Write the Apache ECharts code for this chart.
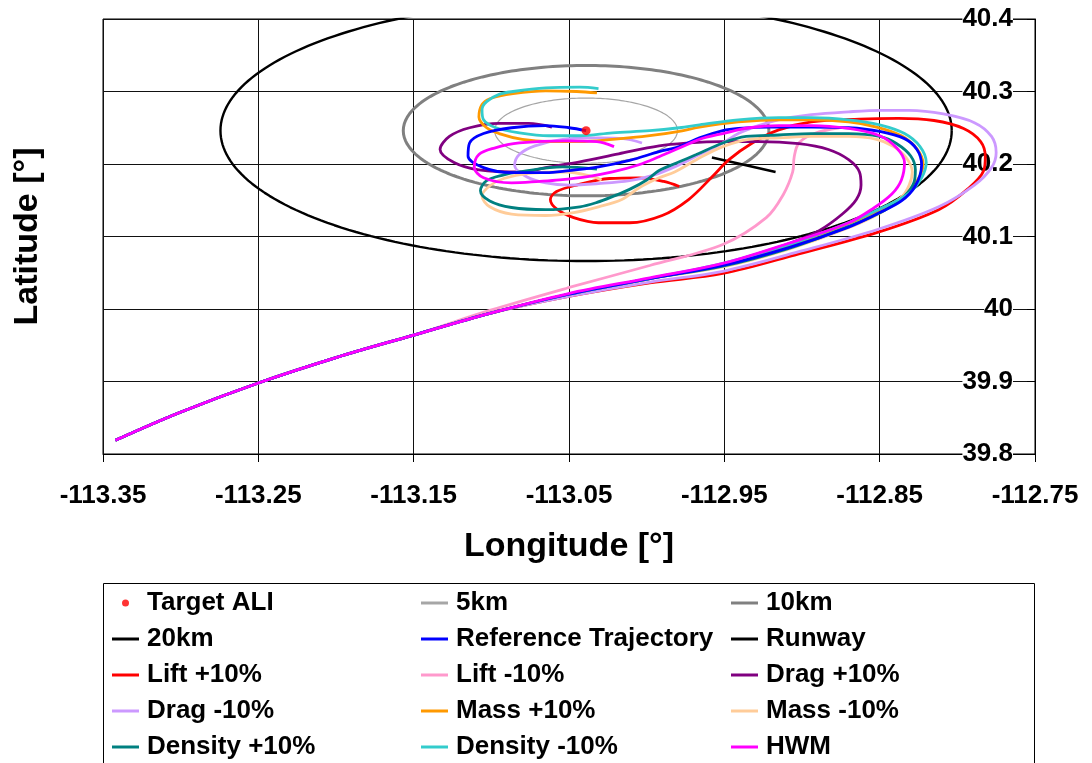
<!DOCTYPE html>
<html>
<head>
<meta charset="utf-8">
<script src="https://cdn.jsdelivr.net/npm/echarts@6/dist/echarts.min.js"></script>
<style>
  html, body { margin: 0; padding: 0; background: #ffffff; }
  #chart { width: 1092px; height: 763px; }
</style>
</head>
<body>
<div id="chart"></div>
<script>
// Axis ranges (degrees)
const lonRange = [-113.35, -112.75];
const latRange = [39.8, 40.4];
const tickStep = 0.1;

// Target point and range rings around it (km)
const targetALI = [-113.039, 40.246];
const ringRadiiKm = [5, 10, 20];

// Runway centreline
const runway = [[-112.958, 40.209], [-112.917, 40.189]];

// Trajectories [lon, lat]
const reference = [
  [-113.342, 39.819], [-113.301, 39.857], [-113.250, 39.898], [-113.200, 39.933], [-113.150, 39.964],
  [-113.101, 39.994], [-113.051, 40.020], [-112.998, 40.042], [-112.951, 40.060], [-112.908, 40.085],
  [-112.870, 40.113], [-112.851, 40.132], [-112.836, 40.149], [-112.827, 40.170], [-112.823, 40.199],
  [-112.826, 40.220], [-112.834, 40.235], [-112.850, 40.245], [-112.870, 40.250], [-112.894, 40.251],
  [-112.921, 40.251], [-112.941, 40.249], [-112.951, 40.246], [-112.966, 40.236], [-112.979, 40.224],
  [-112.992, 40.217], [-113.011, 40.205], [-113.031, 40.196], [-113.050, 40.191], [-113.065, 40.188],
  [-113.087, 40.188], [-113.105, 40.195], [-113.115, 40.211], [-113.114, 40.229], [-113.105, 40.242],
  [-113.087, 40.250], [-113.065, 40.253], [-113.050, 40.250], [-113.039, 40.246]
];
const liftPlus = [
  [-113.342, 39.819], [-113.301, 39.857], [-113.250, 39.898], [-113.200, 39.933], [-113.150, 39.964],
  [-113.101, 39.994], [-113.051, 40.017], [-112.998, 40.036], [-112.951, 40.049], [-112.902, 40.076],
  [-112.851, 40.106], [-112.812, 40.137], [-112.793, 40.166], [-112.783, 40.191], [-112.782, 40.210],
  [-112.785, 40.231], [-112.796, 40.249], [-112.815, 40.260], [-112.838, 40.263], [-112.863, 40.262],
  [-112.894, 40.258], [-112.915, 40.247], [-112.932, 40.229], [-112.947, 40.206], [-112.958, 40.182],
  [-112.973, 40.151], [-112.990, 40.129], [-113.011, 40.119], [-113.031, 40.119], [-113.047, 40.126],
  [-113.058, 40.138], [-113.062, 40.151], [-113.058, 40.162], [-113.045, 40.171], [-113.024, 40.180],
  [-113.005, 40.181], [-112.989, 40.176], [-112.979, 40.169]
];
const liftMinus = [
  [-113.342, 39.819], [-113.301, 39.857], [-113.250, 39.898], [-113.200, 39.933], [-113.150, 39.964],
  [-113.101, 39.998], [-113.051, 40.029], [-112.998, 40.060], [-112.951, 40.089], [-112.923, 40.126],
  [-112.912, 40.158], [-112.906, 40.189], [-112.905, 40.210], [-112.902, 40.229], [-112.892, 40.242],
  [-112.876, 40.250]
];
const dragPlus = [
  [-113.342, 39.819], [-113.301, 39.857], [-113.250, 39.898], [-113.200, 39.933], [-113.150, 39.964],
  [-113.101, 39.994], [-113.051, 40.020], [-112.998, 40.042], [-112.951, 40.062], [-112.923, 40.080],
  [-112.906, 40.092], [-112.889, 40.108], [-112.874, 40.131], [-112.865, 40.151], [-112.862, 40.171],
  [-112.863, 40.189], [-112.870, 40.206], [-112.883, 40.220], [-112.902, 40.228], [-112.928, 40.231],
  [-112.953, 40.231], [-112.973, 40.229], [-112.992, 40.225], [-113.018, 40.214], [-113.043, 40.203],
  [-113.065, 40.195], [-113.080, 40.189], [-113.108, 40.192], [-113.124, 40.202], [-113.133, 40.220],
  [-113.127, 40.238], [-113.114, 40.250], [-113.095, 40.256], [-113.076, 40.256], [-113.061, 40.251]
];
const dragMinus = [
  [-113.342, 39.819], [-113.301, 39.857], [-113.250, 39.898], [-113.200, 39.933], [-113.150, 39.964],
  [-113.101, 39.994], [-113.051, 40.017], [-112.998, 40.037], [-112.951, 40.052], [-112.902, 40.079],
  [-112.851, 40.110], [-112.812, 40.141], [-112.789, 40.171], [-112.778, 40.195], [-112.775, 40.216],
  [-112.778, 40.238], [-112.789, 40.257], [-112.809, 40.269], [-112.831, 40.274], [-112.849, 40.274],
  [-112.870, 40.272], [-112.894, 40.268], [-112.915, 40.261], [-112.928, 40.253], [-112.941, 40.242],
  [-112.951, 40.229], [-112.966, 40.213], [-112.979, 40.199], [-112.995, 40.185], [-113.011, 40.177],
  [-113.031, 40.173], [-113.050, 40.171], [-113.065, 40.174], [-113.077, 40.182], [-113.085, 40.198],
  [-113.082, 40.213], [-113.072, 40.225], [-113.054, 40.234], [-113.031, 40.236], [-113.015, 40.235],
  [-113.003, 40.229]
];
const massPlus = [
  [-113.342, 39.819], [-113.301, 39.857], [-113.250, 39.898], [-113.200, 39.933], [-113.150, 39.964],
  [-113.101, 39.994], [-113.051, 40.020], [-112.998, 40.042], [-112.951, 40.062], [-112.908, 40.088],
  [-112.870, 40.118], [-112.847, 40.140], [-112.833, 40.159], [-112.825, 40.180], [-112.822, 40.200],
  [-112.826, 40.221], [-112.836, 40.239], [-112.852, 40.251], [-112.870, 40.258], [-112.894, 40.261],
  [-112.915, 40.261], [-112.941, 40.258], [-112.966, 40.251], [-112.979, 40.245], [-112.998, 40.239],
  [-113.022, 40.234], [-113.043, 40.231], [-113.063, 40.231], [-113.080, 40.234], [-113.095, 40.242],
  [-113.103, 40.250], [-113.108, 40.265], [-113.106, 40.282], [-113.101, 40.290], [-113.086, 40.297],
  [-113.065, 40.301], [-113.045, 40.300], [-113.032, 40.298]
];
const massMinus = [
  [-113.342, 39.819], [-113.301, 39.857], [-113.250, 39.898], [-113.200, 39.933], [-113.150, 39.964],
  [-113.101, 39.994], [-113.051, 40.020], [-112.998, 40.042], [-112.951, 40.058], [-112.908, 40.083],
  [-112.870, 40.112], [-112.849, 40.133], [-112.836, 40.154], [-112.831, 40.171], [-112.829, 40.189],
  [-112.833, 40.209], [-112.841, 40.224], [-112.852, 40.234], [-112.870, 40.238], [-112.894, 40.238],
  [-112.915, 40.236], [-112.934, 40.234], [-112.951, 40.224], [-112.968, 40.206], [-112.982, 40.189],
  [-112.992, 40.181], [-113.005, 40.167], [-113.016, 40.151], [-113.031, 40.141], [-113.047, 40.133],
  [-113.065, 40.129], [-113.087, 40.131], [-113.101, 40.141], [-113.106, 40.156], [-113.101, 40.170],
  [-113.092, 40.180], [-113.076, 40.187], [-113.052, 40.189], [-113.037, 40.184], [-113.029, 40.178]
];
const densityPlus = [
  [-113.342, 39.819], [-113.301, 39.857], [-113.250, 39.898], [-113.200, 39.933], [-113.150, 39.964],
  [-113.101, 39.994], [-113.051, 40.020], [-112.998, 40.042], [-112.951, 40.059], [-112.908, 40.084],
  [-112.870, 40.114], [-112.847, 40.136], [-112.834, 40.156], [-112.828, 40.174], [-112.827, 40.192],
  [-112.830, 40.211], [-112.839, 40.228], [-112.850, 40.238], [-112.870, 40.242], [-112.894, 40.242],
  [-112.915, 40.240], [-112.936, 40.238], [-112.951, 40.229], [-112.968, 40.213], [-112.979, 40.203],
  [-112.992, 40.191], [-113.000, 40.178], [-113.011, 40.165], [-113.022, 40.155], [-113.032, 40.147],
  [-113.043, 40.141], [-113.065, 40.137], [-113.087, 40.140], [-113.101, 40.149], [-113.107, 40.163],
  [-113.103, 40.177], [-113.092, 40.185], [-113.082, 40.189], [-113.054, 40.196], [-113.032, 40.193]
];
const densityMinus = [
  [-113.342, 39.819], [-113.301, 39.857], [-113.250, 39.898], [-113.200, 39.933], [-113.150, 39.964],
  [-113.101, 39.994], [-113.051, 40.020], [-112.998, 40.042], [-112.951, 40.063], [-112.908, 40.089],
  [-112.870, 40.119], [-112.847, 40.141], [-112.831, 40.160], [-112.823, 40.181], [-112.820, 40.202],
  [-112.824, 40.224], [-112.834, 40.242], [-112.850, 40.254], [-112.870, 40.261], [-112.894, 40.264],
  [-112.915, 40.264], [-112.941, 40.261], [-112.966, 40.254], [-112.979, 40.250], [-112.998, 40.246],
  [-113.022, 40.243], [-113.043, 40.239], [-113.063, 40.239], [-113.082, 40.243], [-113.097, 40.250],
  [-113.105, 40.261], [-113.106, 40.275], [-113.103, 40.286], [-113.095, 40.296], [-113.086, 40.300],
  [-113.065, 40.305], [-113.043, 40.306], [-113.031, 40.304]
];
const hwm = [
  [-113.342, 39.819], [-113.301, 39.857], [-113.250, 39.898], [-113.200, 39.933], [-113.150, 39.964],
  [-113.101, 39.994], [-113.051, 40.021], [-112.998, 40.043], [-112.951, 40.063], [-112.908, 40.091],
  [-112.870, 40.119], [-112.854, 40.139], [-112.842, 40.159], [-112.836, 40.178], [-112.834, 40.202],
  [-112.839, 40.222], [-112.850, 40.239], [-112.870, 40.249], [-112.894, 40.253], [-112.915, 40.253],
  [-112.934, 40.250], [-112.951, 40.242], [-112.966, 40.234], [-112.979, 40.222], [-112.992, 40.210],
  [-113.005, 40.199], [-113.022, 40.189], [-113.037, 40.183], [-113.056, 40.178], [-113.069, 40.176],
  [-113.087, 40.174], [-113.105, 40.181], [-113.111, 40.196], [-113.108, 40.213], [-113.098, 40.222],
  [-113.082, 40.229], [-113.052, 40.232], [-113.032, 40.231], [-113.021, 40.224]
];

const FONT = 'Liberation Sans, Arial, Helvetica, sans-serif';

// Range ring drawn as a circle of the given radius around the target
function ringPoints(km) {
  const dLat = km / 111.2;
  const dLon = km / (111.32 * Math.cos(targetALI[1] * Math.PI / 180));
  const pts = [];
  for (let i = 0; i <= 240; i++) {
    const a = (i / 240) * 2 * Math.PI;
    pts.push([targetALI[0] + dLon * Math.cos(a), targetALI[1] + dLat * Math.sin(a)]);
  }
  return pts;
}

function lineSeries(name, data, color, width, smooth) {
  return {
    name: name,
    type: 'line',
    data: data,
    showSymbol: false,
    symbol: 'none',
    smooth: smooth ? 0.35 : false,
    clip: true,
    color: color,
    itemStyle: { color: color },
    lineStyle: { color: color, width: width },
    emphasis: { disabled: true }
  };
}

const TRAJ_W = 2.8;
const series = [
  lineSeries('5km', ringPoints(ringRadiiKm[0]), '#a6a6a6', 1.2, false),
  lineSeries('10km', ringPoints(ringRadiiKm[1]), '#808080', 3, false),
  lineSeries('20km', ringPoints(ringRadiiKm[2]), '#000000', 2.4, false),
  lineSeries('Runway', runway, '#000000', 2.4, false),
  lineSeries('Lift +10%', liftPlus, '#ff0000', TRAJ_W, true),
  lineSeries('Lift -10%', liftMinus, '#ff99cc', TRAJ_W, true),
  lineSeries('Drag +10%', dragPlus, '#800080', TRAJ_W, true),
  lineSeries('Drag -10%', dragMinus, '#cc99ff', TRAJ_W, true),
  lineSeries('Mass +10%', massPlus, '#ff9900', TRAJ_W, true),
  lineSeries('Mass -10%', massMinus, '#ffcc99', TRAJ_W, true),
  lineSeries('Density +10%', densityPlus, '#008080', TRAJ_W, true),
  lineSeries('Density -10%', densityMinus, '#33cccc', TRAJ_W, true),
  lineSeries('Reference Trajectory', reference, '#0000ff', TRAJ_W, true),
  lineSeries('HWM', hwm, '#ff00ff', TRAJ_W, true),
  {
    name: 'Target ALI',
    type: 'scatter',
    data: [targetALI],
    symbol: 'circle',
    symbolSize: 9,
    z: 5,
    itemStyle: { color: '#ff0000' },
    emphasis: { disabled: true }
  }
];

const legendColumns = [
  ['Target ALI', '20km', 'Lift +10%', 'Drag -10%', 'Density +10%'],
  ['5km', 'Reference Trajectory', 'Lift -10%', 'Mass +10%', 'Density -10%'],
  ['10km', 'Runway', 'Drag +10%', 'Mass -10%', 'HWM']
];
const legendLeft = [112, 421, 731];
const barIcon = 'path://M0,0 L27,0 L27,3 L0,3 Z';

const legends = legendColumns.map(function (col, ci) {
  return {
    orient: 'vertical',
    left: legendLeft[ci],
    top: 585,
    height: 200,
    itemWidth: 27,
    itemHeight: 7,
    itemGap: 0,
    selectedMode: false,
    padding: 0,
    data: col.map(function (n) {
      return { name: n, icon: n === 'Target ALI' ? 'circle' : barIcon };
    }),
    textStyle: {
      fontFamily: FONT, fontSize: 26, fontWeight: 'bold', color: '#000',
      lineHeight: 36, padding: [0, 0, 0, 3]
    }
  };
});

const chart = echarts.init(document.getElementById('chart'), null, { renderer: 'canvas' });
chart.setOption({
  animation: false,
  backgroundColor: '#ffffff',
  grid: {
    left: 103, right: 57, top: 19, bottom: 309,
    show: true, borderColor: '#000', borderWidth: 1, backgroundColor: 'transparent'
  },
  legend: legends,
  xAxis: {
    type: 'value',
    min: lonRange[0], max: lonRange[1], interval: tickStep,
    name: 'Longitude [°]',
    nameLocation: 'middle',
    nameGap: 76,
    nameTextStyle: { fontFamily: FONT, fontSize: 34, fontWeight: 'bold', color: '#000' },
    axisLine: { show: true, onZero: false, lineStyle: { color: '#000', width: 1 } },
    axisTick: { show: true, inside: false, length: 8, lineStyle: { color: '#000' } },
    axisLabel: {
      margin: 29, fontFamily: FONT, fontSize: 26, fontWeight: 'bold', color: '#000',
      formatter: function (v) { return v.toFixed(2); }
    },
    splitLine: { show: true, lineStyle: { color: '#111', width: 1 } }
  },
  yAxis: [
    {
      type: 'value',
      position: 'right',
      min: latRange[0], max: latRange[1], interval: tickStep,
      axisLine: { show: true, onZero: false, lineStyle: { color: '#000', width: 1 } },
      axisTick: { show: true, inside: true, length: 8, lineStyle: { color: '#000' } },
      axisLabel: {
        inside: true, margin: 22, fontFamily: FONT, fontSize: 26, fontWeight: 'bold', color: '#000',
        backgroundColor: '#ffffff',
        formatter: function (v) { return String(Math.round(v * 10) / 10); }
      },
      splitLine: { show: true, lineStyle: { color: '#111', width: 1 } }
    },
    {
      type: 'value',
      position: 'left',
      min: latRange[0], max: latRange[1], interval: tickStep,
      name: 'Latitude [°]',
      nameLocation: 'middle',
      nameGap: 58,
      nameTextStyle: { fontFamily: FONT, fontSize: 34, fontWeight: 'bold', color: '#000' },
      axisLine: { show: false },
      axisTick: { show: false },
      axisLabel: { show: false },
      splitLine: { show: false }
    }
  ],
  graphic: [
    {
      type: 'rect',
      shape: { x: 103.5, y: 583.5, width: 931, height: 200 },
      style: { fill: 'none', stroke: '#000', lineWidth: 1 },
      silent: true
    }
  ],
  series: series
});
</script>
</body>
</html>
